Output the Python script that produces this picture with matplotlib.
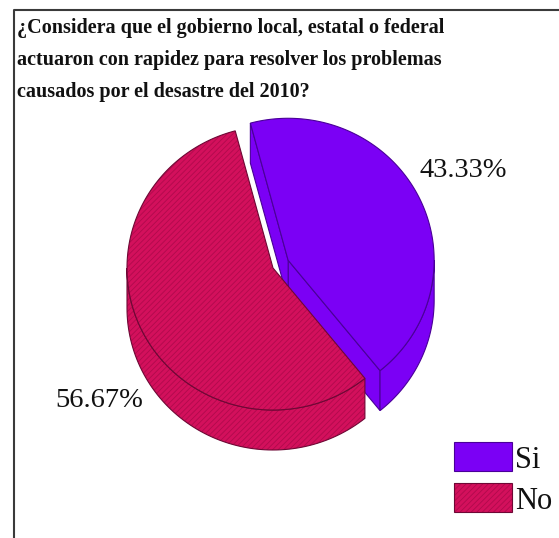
import numpy as np
import matplotlib
matplotlib.use("Agg")
import matplotlib.pyplot as plt
from matplotlib.patches import Polygon, Rectangle

# ---- data ----
categories = ["Si", "No"]
percentages = [43.33, 56.67]
colors = ["#7B00F5", "#D3105C"]
edge_colors = ["#4A0098", "#6E0835"]
hatches = [None, "//////"]
hatch_color = "#B00A4C"
title_lines = [
    "¿Considera que el gobierno local, estatal o federal",
    "actuaron con rapidez para resolver los problemas",
    "causados por el desastre del 2010?",
]

plt.rcParams["hatch.linewidth"] = 0.6
SERIF = ["Liberation Serif", "DejaVu Serif"]

W, H = 559, 538
fig = plt.figure(figsize=(W / 100, H / 100), dpi=100)
ax = fig.add_axes([0, 0, 1, 1])
ax.set_xlim(0, W)
ax.set_ylim(H, 0)
ax.axis("off")

# frame
ax.plot([14, 14, W], [H, 10, 10], color="#3a3a3a", lw=1.5, solid_capstyle="butt")

# title
for i, line in enumerate(title_lines):
    ax.text(17, 33 + 32 * i, line, family=SERIF, fontweight="bold",
            fontsize=14.5, ha="left", va="baseline", color="#111111")

# ---- extruded pie geometry ----
CX, CY = 273.0, 268.0
RX, RY = 146.0, 142.0
DEPTH = 40.0
START = 105.0
explode = [17.0, 0.0]


def rim(cx, cy, t, dy=0.0):
    t = np.radians(t)
    return np.column_stack([cx + RX * np.cos(t), cy - RY * np.sin(t) + dy])


def add_poly(pts, face, edge, hatch, z):
    if hatch:
        ax.add_patch(Polygon(pts, closed=True, facecolor=face, edgecolor=hatch_color,
                             lw=0, hatch=hatch, zorder=z))
        ax.add_patch(Polygon(pts, closed=True, fill=False, edgecolor=edge,
                             lw=0.8, zorder=z + 0.01))
    else:
        ax.add_patch(Polygon(pts, closed=True, facecolor=face, edgecolor=edge,
                             lw=0.8, zorder=z))


fracs = np.array(percentages) / sum(percentages)
spans = 360.0 * fracs
ends = START - np.concatenate([[0], np.cumsum(spans)[:-1]])
starts = ends - spans

label_pos = [(463, 177), (99, 407)]

for k in range(len(categories)):
    t1, t2 = starts[k], ends[k]
    mid = np.radians((t1 + t2) / 2)
    cx = CX + explode[k] * np.cos(mid)
    cy = CY - explode[k] * np.sin(mid)
    face, edge, hatch = colors[k], edge_colors[k], hatches[k]
    z = 2 + 2 * k
    c_top = np.array([[cx, cy]])
    c_bot = np.array([[cx, cy + DEPTH]])

    # radial faces (visible when their outward normal points down)
    for t, normal in ((t1, t1 - 90), (t2, t2 + 90)):
        if np.sin(np.radians(normal)) < 0:
            pts = np.vstack([c_top, rim(cx, cy, t), rim(cx, cy, t, DEPTH), c_bot])
            add_poly(pts, face, edge, hatch, z)

    # curved outer side, front (lower) half only
    for j in range(-2, 3):
        a = max(t1, -180 + 360 * j)
        b = min(t2, 360 * j)
        if b > a:
            ts = np.linspace(a, b, 80)
            pts = np.vstack([rim(cx, cy, ts), rim(cx, cy, ts[::-1], DEPTH)])
            add_poly(pts, face, edge, hatch, z)

    # top face
    ts = np.linspace(t1, t2, 200)
    pts = np.vstack([c_top, rim(cx, cy, ts)])
    add_poly(pts, face, edge, hatch, z + 0.5)

    # value label
    lx, ly = label_pos[k]
    ax.text(lx, ly, f"{percentages[k]:.2f}%", family=SERIF, fontsize=20.5,
            ha="center", va="baseline", color="#111111", zorder=10)

# ---- legend ----
legend_y = [442, 483]
for k, name in enumerate(categories):
    y0 = legend_y[k]
    if hatches[k]:
        ax.add_patch(Rectangle((454, y0), 58, 29, facecolor=colors[k], edgecolor=hatch_color,
                               lw=0, hatch=hatches[k], zorder=10))
        ax.add_patch(Rectangle((454, y0), 58, 29, fill=False, edgecolor=edge_colors[k],
                               lw=0.8, zorder=10.1))
    else:
        ax.add_patch(Rectangle((454, y0), 58, 29, facecolor=colors[k],
                               edgecolor=edge_colors[k], lw=0.8, zorder=10))
    ax.text(515, y0 + 26, name, family=SERIF, fontsize=22, ha="left",
            va="baseline", color="#111111", zorder=10)

fig.savefig("out.png", dpi=100)
